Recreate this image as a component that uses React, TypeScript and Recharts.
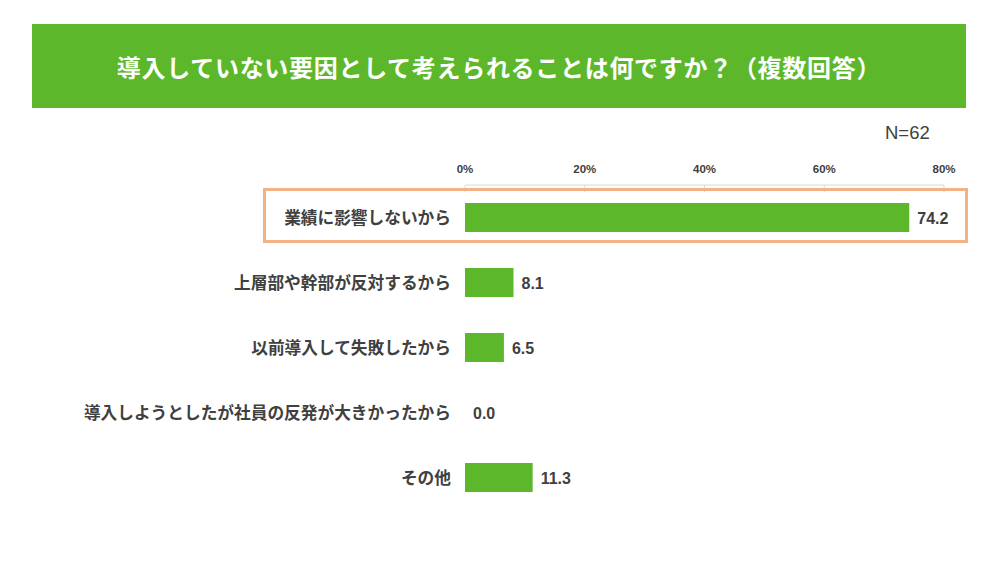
import React from "react";
import { ComposedChart, Bar, Line, XAxis, YAxis, LabelList } from "recharts";

const categories = [
  "業績に影響しないから",
  "上層部や幹部が反対するから",
  "以前導入して失敗したから",
  "導入しようとしたが社員の反発が大きかったから",
  "その他",
];
const values = [74.2, 8.1, 6.5, 0.0, 11.3];
const xTicks = [0, 20, 40, 60, 80];
const title = "導入していない要因として考えられることは何ですか？（複数回答）";
const sampleNote = "N=62";

const data = categories.map((name, i) => ({ name, value: values[i] }));

const GREEN = "#5cb82a";
const TEXT = "#404040";
const FONT = '"Noto Sans CJK JP", "Noto Sans", sans-serif';
const NUMFONT = '"Liberation Sans", Arial, sans-serif';

const XTick = (props: any) => {
  const { x, y, payload } = props;
  return (
    <g>
      <text
        x={x}
        y={y}
        textAnchor="middle"
        fontSize={11.5}
        fontWeight={700}
        fill={TEXT}
        fontFamily={NUMFONT}
      >
        {payload.value}%
      </text>
      <line x1={x} x2={x} y1={y + 12} y2={y + 19} stroke="#d9d9d9" strokeWidth={1} />
    </g>
  );
};

const YTick = (props: any) => {
  const { x, y, payload } = props;
  return (
    <text
      x={x}
      y={y}
      dy={6}
      textAnchor="end"
      fontSize={16.7}
      fontWeight={700}
      fill={TEXT}
      fontFamily={FONT}
    >
      {payload.value}
    </text>
  );
};

const ValueLabel = (props: any) => {
  const { x, y, value } = props;
  return (
    <text
      x={Number(x) + 8}
      y={Number(y)}
      dy={6}
      textAnchor="start"
      fontSize={16}
      fontWeight={700}
      fill={TEXT}
      fontFamily={NUMFONT}
    >
      {Number(value).toFixed(1)}
    </text>
  );
};

export default function App() {
  return (
    <div
      style={{
        position: "absolute",
        left: 0,
        top: 0,
        width: 1000,
        height: 563,
        background: "#fff",
        fontFamily: FONT,
      }}
    >
      <div
        style={{
          position: "absolute",
          left: 32,
          top: 24,
          width: 934,
          height: 84,
          background: GREEN,
          color: "#fff",
          fontWeight: 700,
          fontSize: 24,
          letterSpacing: 0.7,
          display: "flex",
          alignItems: "center",
          justifyContent: "center",
          whiteSpace: "nowrap",
        }}
      >
        {title}
      </div>
      <div
        style={{
          position: "absolute",
          left: 885,
          top: 122,
          fontSize: 18.5,
          color: TEXT,
          fontFamily: NUMFONT,
        }}
      >
        {sampleNote}
      </div>
      <div style={{ position: "absolute", left: 0, top: 0 }}>
        <ComposedChart
          width={1000}
          height={563}
          data={data}
          layout="vertical"
          margin={{ top: 155, right: 56, bottom: 53, left: 0 }}
          barCategoryGap={18}
        >
          <XAxis
            type="number"
            orientation="top"
            domain={[0, 80]}
            ticks={xTicks}
            height={30}
            tickSize={6}
            tickMargin={6}
            tickLine={false}
            axisLine={{ stroke: "#d9d9d9" }}
            tick={<XTick />}
            interval={0}
          />
          <YAxis
            type="category"
            dataKey="name"
            width={465}
            tickSize={0}
            tickMargin={14}
            tickLine={false}
            axisLine={false}
            tick={<YTick />}
            interval={0}
          />
          <Bar dataKey="value" fill={GREEN} isAnimationActive={false} />
          <Line
            dataKey="value"
            stroke="none"
            dot={false}
            activeDot={false}
            isAnimationActive={false}
          >
            <LabelList dataKey="value" content={<ValueLabel />} />
          </Line>
        </ComposedChart>
      </div>
      <div
        style={{
          position: "absolute",
          left: 263,
          top: 188,
          width: 705,
          height: 55,
          boxSizing: "border-box",
          border: "3px solid #f4b183",
          pointerEvents: "none",
        }}
      />
    </div>
  );
}
